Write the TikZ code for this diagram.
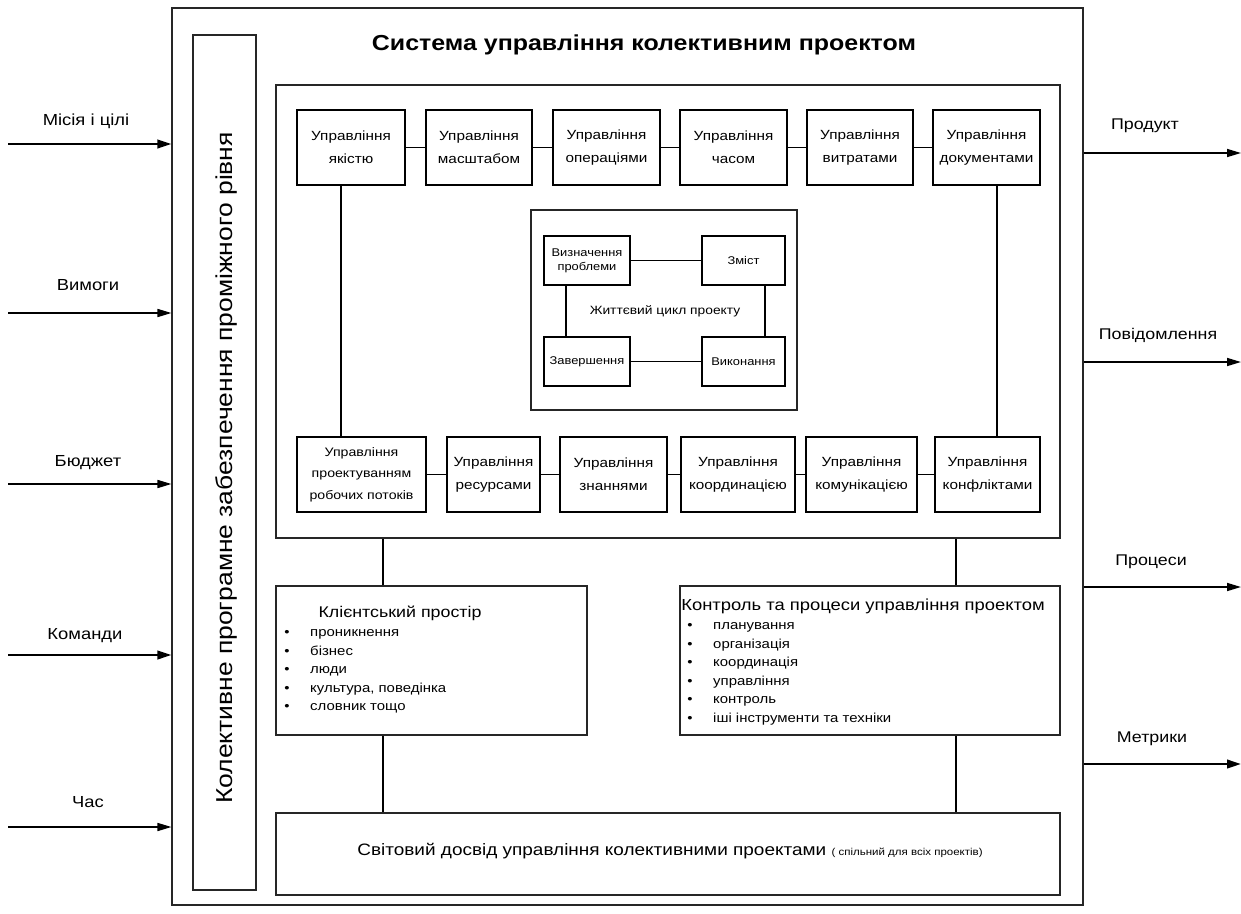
\documentclass[tikz,border=0pt]{standalone}
\usepackage{fontspec}
\setmainfont{Liberation Sans}[FakeStretch=1.15]
\usetikzlibrary{arrows.meta}
\newcommand{\myfs}[2]{\fontsize{#1}{#2}\selectfont}
\begin{document}
\begin{tikzpicture}[x=1pt,y=-1pt,
  frame/.style={draw=black!85, line width=1.1pt, inner sep=0pt},
  mbox/.style={draw, line width=1.2pt, inner sep=0pt, align=center, minimum height=75pt, font=\myfs{13.3}{23}},
  lbox/.style={draw, line width=1.1pt, inner sep=0pt, align=center, minimum width=85pt, minimum height=49pt, font=\myfs{11.2}{14}},
  link/.style={line width=1.1pt},
  io/.style={line width=1.6pt, -{Triangle[length=14pt,width=8pt]}},
  iot/.style={line width=2.3pt, -{Triangle[length=14pt,width=8.5pt]}},
  iolbl/.style={font=\myfs{16}{19}},
  item/.style={anchor=base west, inner sep=0pt, font=\myfs{13}{15}},
  bul/.style={anchor=base, inner sep=0pt, font=\myfs{13}{14}},
]
\fill[white] (0,0) rectangle (1241,913);
\useasboundingbox (0,0) rectangle (1241,913);

% frames
\node[frame, minimum width=911pt, minimum height=897pt] (outer) at (627.5,456.5) {};
\node[frame, minimum width=63pt, minimum height=855pt] (mid) at (224.5,462.5) {};
\node[rotate=90, font=\myfs{23}{26}] (midtxt) at (226,468) {Колективне програмне забезпечення проміжного рівня};
\node[font=\bfseries\myfs{21.7}{25}] (title) at (644,45) {Система управління колективним проектом};
\node[frame, line width=1.2pt, minimum width=784pt, minimum height=453pt] (inner) at (668,311.5) {};

% top row
\node[mbox, minimum width=108pt] (t1) at (351,147.5) {Управління\\якістю};
\node[mbox, minimum width=106pt] (t2) at (479,147.5) {Управління\\масштабом};
\node[mbox, minimum width=107pt] (t3) at (606.5,147.5) {Управління\\операціями};
\node[mbox, minimum width=107pt] (t4) at (733.5,147.5) {Управління\\часом};
\node[mbox, minimum width=106pt] (t5) at (860,147.5) {Управління\\витратами};
\node[mbox, minimum width=107pt] (t6) at (986.5,147.5) {Управління\\документами};
\draw[link] (t1) -- (t2);
\draw[link] (t2) -- (t3);
\draw[link] (t3) -- (t4);
\draw[link] (t4) -- (t5);
\draw[link] (t5) -- (t6);

% bottom row
\node[mbox, minimum width=129pt, font=\myfs{12.3}{21.5}] (b1) at (361.5,474.5) {Управління\\проектуванням\\робочих потоків};
\node[mbox, minimum width=93pt] (b2) at (493.5,474.5) {Управління\\ресурсами};
\node[mbox, minimum width=107pt] (b3) at (613.5,474.5) {Управління\\знаннями};
\node[mbox, minimum width=114pt] (b4) at (738,474.5) {Управління\\координацією};
\node[mbox, minimum width=111pt] (b5) at (861.5,474.5) {Управління\\комунікацією};
\node[mbox, minimum width=105pt] (b6) at (987.5,474.5) {Управління\\конфліктами};
\draw[link] (b1) -- (b2);
\draw[link] (b2) -- (b3);
\draw[link] (b3) -- (b4);
\draw[link] (b4) -- (b5);
\draw[link] (b5) -- (b6);

\draw[link] ([xshift=-10pt]t1.south) -- ([xshift=-10pt]t1.south |- b1.north);
\draw[link] ([xshift=10.5pt]t6.south) -- ([xshift=10.5pt]t6.south |- b6.north);

% life cycle
\node[frame, minimum width=266pt, minimum height=200pt] (life) at (664,310) {};
\node[lbox, minimum width=86pt] (lc1) at (587,260.5) {Визначення\\проблеми};
\node[lbox, minimum width=83pt] (lc2) at (743.5,260.5) {Зміст};
\node[lbox, minimum width=86pt] (lc3) at (587,361.5) {Завершення};
\node[lbox, minimum width=83pt] (lc4) at (743.5,361.5) {Виконання};
\node[font=\myfs{12}{14}] (lifetxt) at (665,311) {Життєвий цикл проекту};
\draw[link] (lc1) -- (lc2);
\draw[link] (lc3) -- (lc4);
\draw[link] ([xshift=-21pt]lc1.south) -- ([xshift=-21pt]lc1.south |- lc3.north);
\draw[link] ([xshift=21.5pt]lc2.south) -- ([xshift=21.5pt]lc2.south |- lc4.north);

% client space
\node[frame, line width=1.2pt, minimum width=311pt, minimum height=149pt] (client) at (431.5,660.5) {};
\node[font=\myfs{15.5}{18}] (cltitle) at (400,613) {Клієнтський простір};
\node[bul] (cb1) at (287,636.5) {•}; \node[item] (ci1) at (310,636.5) {проникнення};
\node[bul] (cb2) at (287,655) {•}; \node[item] (ci2) at (310,655) {бізнес};
\node[bul] (cb3) at (287,673.5) {•}; \node[item] (ci3) at (310,673.5) {люди};
\node[bul] (cb4) at (287,692) {•}; \node[item] (ci4) at (310,692) {культура, поведінка};
\node[bul] (cb5) at (287,710.5) {•}; \node[item] (ci5) at (310,710.5) {словник тощо};

% control
\node[frame, line width=1.2pt, minimum width=380pt, minimum height=149pt] (control) at (870,660.5) {};
\node[font=\myfs{16}{19}] (cttitle) at (863,606) {Контроль та процеси управління проектом};
\node[bul] (kb1) at (690,629.5) {•}; \node[item] (ki1) at (713,629.5) {планування};
\node[bul] (kb2) at (690,648) {•}; \node[item] (ki2) at (713,648) {організація};
\node[bul] (kb3) at (690,666.5) {•}; \node[item] (ki3) at (713,666.5) {координація};
\node[bul] (kb4) at (690,685) {•}; \node[item] (ki4) at (713,685) {управління};
\node[bul] (kb5) at (690,703.5) {•}; \node[item] (ki5) at (713,703.5) {контроль};
\node[bul] (kb6) at (690,722) {•}; \node[item] (ki6) at (713,722) {іші інструменти та техніки};

% world experience
\node[frame, line width=1.2pt, minimum width=784pt, minimum height=82pt] (world) at (668,854) {};
\node[font=\myfs{16.5}{20}] (worldtxt) at (670,851) {Світовий досвід управління колективними проектами {\myfs{10}{12}( спільний для всіх проектів)}};

% vertical links
\draw[link] ([xshift=-48.5pt]client.north) -- ([xshift=-48.5pt]client.north |- inner.south);
\draw[link] ([xshift=-48.5pt]client.south) -- ([xshift=-48.5pt]client.south |- world.north);
\draw[link] ([xshift=86pt]control.north) -- ([xshift=86pt]control.north |- inner.south);
\draw[link] ([xshift=86pt]control.south) -- ([xshift=86pt]control.south |- world.north);

% inputs
\coordinate (in1) at (8,144);
\coordinate (in2) at (8,313);
\coordinate (in3) at (8,484);
\coordinate (in4) at (8,655);
\coordinate (in5) at (8,827);
\draw[iot] (in1) -- (in1 -| outer.west);
\draw[io] (in2) -- (in2 -| outer.west);
\draw[io] (in3) -- (in3 -| outer.west);
\draw[iot] (in4) -- (in4 -| outer.west);
\draw[io] (in5) -- (in5 -| outer.west);
\node[iolbl] (lin1) at (86,121) {Місія і цілі};
\node[iolbl] (lin2) at (88,285) {Вимоги};
\node[iolbl] (lin3) at (88,463) {Бюджет};
\node[iolbl] (lin4) at (85,636) {Команди};
\node[iolbl] (lin5) at (88,802) {Час};

% outputs
\coordinate (out1) at (1241,153);
\coordinate (out2) at (1241,362);
\coordinate (out3) at (1241,587);
\coordinate (out4) at (1241,764);
\draw[io] (out1 -| outer.east) -- (out1);
\draw[io] (out2 -| outer.east) -- (out2);
\draw[io] (out3 -| outer.east) -- (out3);
\draw[iot] (out4 -| outer.east) -- (out4);
\node[iolbl, font=\myfs{15.5}{18}] (lout1) at (1145,126) {Продукт};
\node[iolbl, font=\myfs{15.5}{18}] (lout2) at (1158,335) {Повідомлення};
\node[iolbl, font=\myfs{15.5}{18}] (lout3) at (1151,562) {Процеси};
\node[iolbl, font=\myfs{15.5}{18}] (lout4) at (1152,739) {Метрики};
\end{tikzpicture}
\end{document}
